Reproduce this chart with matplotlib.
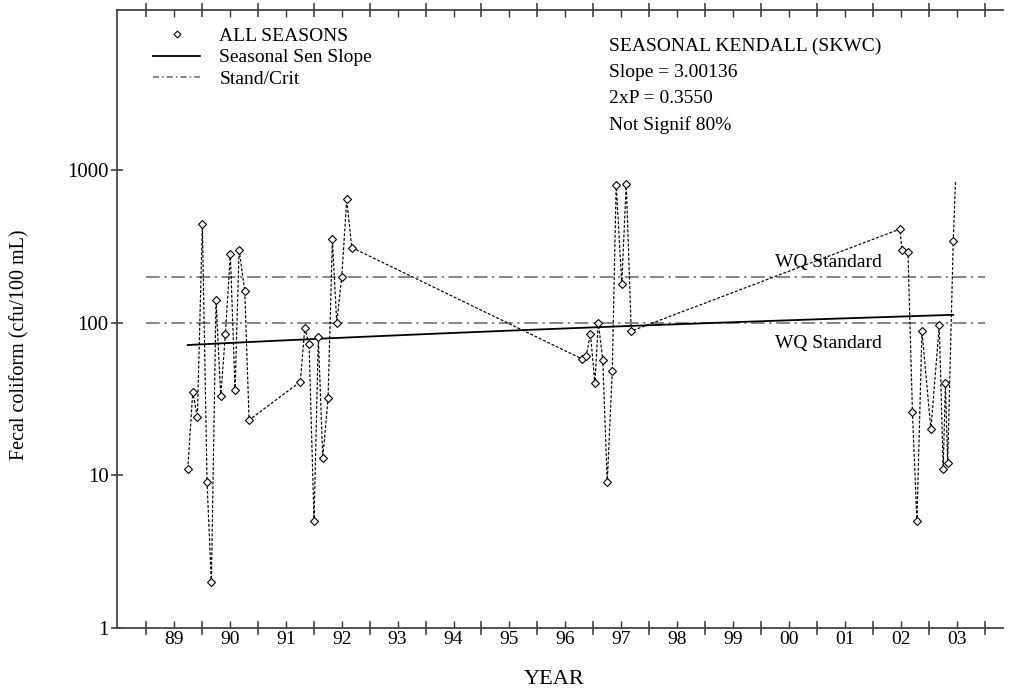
"""Seasonal Kendall trend plot of fecal coliform by year."""
import numpy as np
import matplotlib
matplotlib.use('Agg')
import matplotlib.pyplot as plt
from matplotlib.lines import Line2D

plt.rcParams['font.family'] = ['Liberation Serif', 'DejaVu Serif']

# sample dates as decimal years, fecal coliform in cfu/100 mL
YEARS = [1989.746, 1989.835, 1989.918, 1990.007, 1990.091, 1990.168, 1990.252,
         1990.336, 1990.419, 1990.508, 1990.592, 1990.664, 1990.766, 1990.843,
         1991.760, 1991.839, 1991.916, 1992.005, 1992.082, 1992.161, 1992.256,
         1992.333, 1992.411, 1992.501, 1992.590, 1992.680,
         1996.790, 1996.870, 1996.950, 1997.030, 1997.090, 1997.170, 1997.250,
         1997.340, 1997.410, 1997.510, 1997.590, 1997.680,
         2002.490, 2002.520, 2002.630, 2002.710, 2002.790, 2002.880, 2003.040,
         2003.190, 2003.260, 2003.300, 2003.340, 2003.440, 2003.480]
FECAL = [11, 35, 24, 440, 9, 2, 140, 33, 84, 280, 36, 300, 160, 23,
         41, 92, 72, 5, 80, 13, 32, 350, 100, 200, 640, 310,
         58, 60, 84, 40, 100, 57, 9, 48, 800, 180, 810, 88,
         410, 300, 290, 26, 5, 88, 20, 96, 11, 40, 12, 340, 840]

SEN_SLOPE = 3.00136      # cfu/100 mL per year
SEN_START = 71.3         # trend value at first sample
SEN_END_YEAR = 2003.44
STANDARDS = [200, 100]
STD_SPAN = (1989, 2004)

YEAR_LABELS = ['89', '90', '91', '92', '93', '94', '95', '96', '97', '98',
               '99', '00', '01', '02', '03']
FIRST_YEAR = 1989
Y_TICKS = [1, 10, 100, 1000]

STATS = ['SEASONAL KENDALL (SKWC)', 'Slope = 3.00136', '2xP = 0.3550',
         'Not Signif 80%']

W, H = 1009, 691
fig = plt.figure(figsize=(W / 100, H / 100), dpi=100)
ax = fig.add_axes([117 / W, 1 - 628 / H, (1003 - 117) / W, (628 - 10) / H])

yrs = np.array(YEARS)
vals = np.array(FECAL, dtype=float)

# data trace; last sample has no marker in the original
ax.plot(yrs, vals, color='black', lw=0.85, ls=(0, (2.5, 1.5)), zorder=3)
ax.plot(yrs[:-1], vals[:-1], ls='none', marker='D', ms=4.2, mfc='white',
        mec='black', mew=0.8, zorder=4)

# seasonal Sen slope (linear in concentration)
t = np.linspace(yrs[0], SEN_END_YEAR, 200)
ax.plot(t, SEN_START + SEN_SLOPE * (t - yrs[0]), color='black', lw=1.3, zorder=2)

for s in STANDARDS:
    ax.plot(STD_SPAN, [s, s], color='#666666', lw=1.1,
            ls=(0, (9, 3, 1.5, 3)), zorder=1)
ax.annotate('WQ Standard', (2000.25, STANDARDS[0]), xytext=(0, 4),
            textcoords='offset points', fontsize=14, va='bottom', ha='left')
ax.annotate('WQ Standard', (2000.25, STANDARDS[1]), xytext=(0, -9),
            textcoords='offset points', fontsize=14, va='top', ha='left')

ax.set_yscale('log')
ax.set_ylim(1, 11140)
ax.set_xlim(1988.48, 2004.33)

bounds = np.arange(FIRST_YEAR, FIRST_YEAR + len(YEAR_LABELS) + 1)
centers = bounds[:-1] + 0.5
ax.set_xticks(bounds, [''] * len(bounds))
ax.set_xticks(centers, YEAR_LABELS, minor=True)
ax.set_yticks(Y_TICKS, [str(v) for v in Y_TICKS])
ax.yaxis.set_minor_locator(matplotlib.ticker.NullLocator())

ax.tick_params(axis='x', which='major', direction='inout', length=10,
               width=1.1, color='#333333', top=True)
ax.tick_params(axis='x', which='minor', direction='in', length=5,
               width=1.0, color='#333333', top=True, labelsize=14, pad=2)
ax.tick_params(axis='y', which='major', direction='inout', length=8,
               width=1.1, color='#333333', labelsize=15, pad=2)

for side in ('left', 'top', 'bottom'):
    ax.spines[side].set_color('#444444')
    ax.spines[side].set_linewidth(1.3)
ax.spines['right'].set_visible(False)

ax.set_xlabel('YEAR', fontsize=16)
ax.set_ylabel('Fecal coliform (cfu/100 mL)', fontsize=14.5)
ax.xaxis.set_label_coords((554 - 117) / 886, (628 - 679) / 618)
ax.yaxis.set_label_coords((20 - 117) / 886, (628 - 345) / 618)
ax.xaxis.label.set_va('center')
ax.yaxis.label.set_va('center')

handles = [
    Line2D([], [], ls='none', marker='D', ms=3.5, mfc='white', mec='black', mew=0.8),
    Line2D([], [], color='black', lw=1.3),
    Line2D([], [], color='#666666', lw=1.1, ls=(0, (4, 2, 1, 2))),
]
ax.legend(handles, ['ALL SEASONS', 'Seasonal Sen Slope', 'Stand/Crit'],
          loc='upper left', bbox_to_anchor=(0.041, 0.972), frameon=False,
          fontsize=14, handlelength=2.4, handletextpad=1.0, labelspacing=0.2,
          borderpad=0, borderaxespad=0)

for i, s in enumerate(STATS):
    fig.text(609 / W, 1 - (46 + 26.3 * i) / H, s, fontsize=14, va='center',
             ha='left')

fig.savefig('out.png', dpi=100)
